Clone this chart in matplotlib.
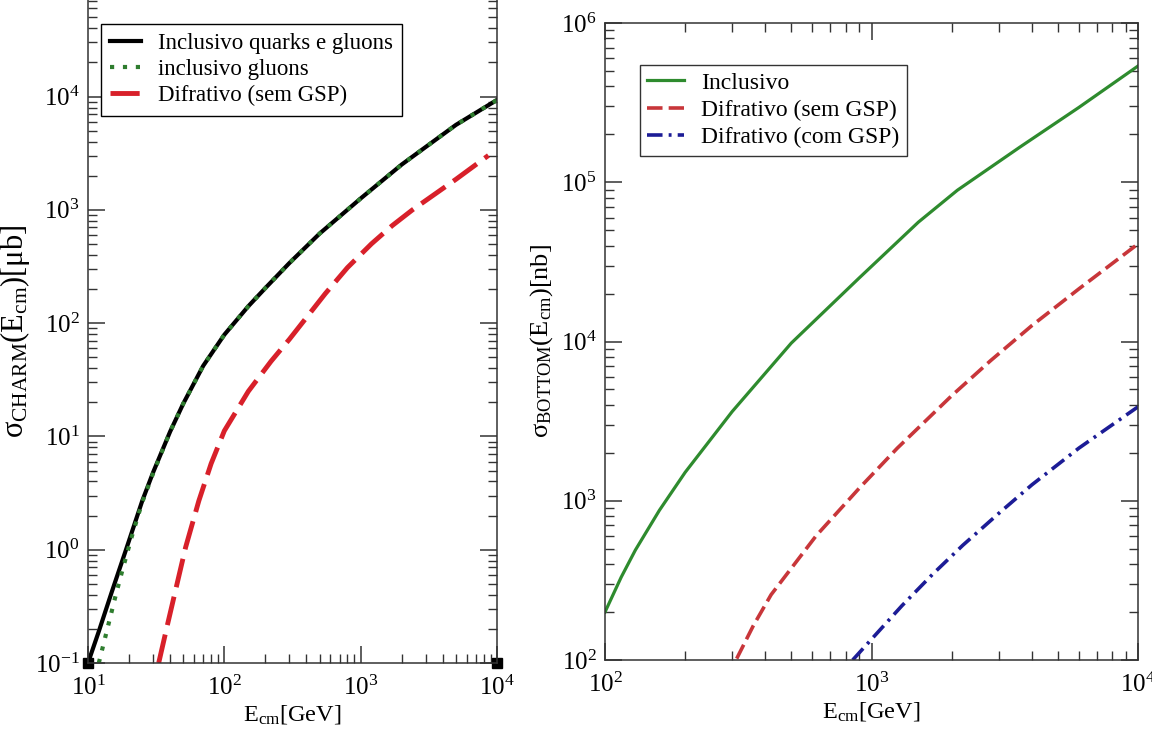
import numpy as np
import matplotlib
matplotlib.use("Agg")
import matplotlib.pyplot as plt
from matplotlib.ticker import LogLocator, NullFormatter

plt.rcParams['font.family'] = ['Liberation Serif', 'DejaVu Serif']
plt.rcParams['mathtext.fontset'] = 'custom'
plt.rcParams['mathtext.rm'] = 'Liberation Serif'
plt.rcParams['mathtext.it'] = 'Liberation Serif:italic'
plt.rcParams['mathtext.bf'] = 'Liberation Serif:bold'

# --- charm (left panel), sigma in micro-barn
E_charm_incl = [10, 12, 15, 19, 25, 30, 40, 50, 70, 100, 150, 200, 300, 500,
                1000, 2000, 5000, 10000]
sig_charm_incl = [0.1, 0.19, 0.43, 1.0, 2.7, 4.8, 11, 19.5, 42, 79, 141, 204, 339, 617,
                  1260, 2510, 5620, 9330]
E_charm_glu = [12, 14, 16, 18, 21, 25, 30, 40, 50, 70, 100, 150, 200, 300, 500,
               1000, 2000, 5000, 10000]
sig_charm_glu = [0.1, 0.21, 0.4, 0.68, 1.32, 2.63, 4.7, 11, 19.5, 42, 79, 141, 204, 339,
                 617, 1260, 2510, 5620, 9330]
E_charm_dif = [33, 38, 45, 52, 65, 80, 100, 150, 220, 300, 550, 800, 1200, 1700, 2400,
               5000, 8650]
sig_charm_dif = [0.1, 0.21, 0.5, 1.05, 2.7, 5.75, 11.2, 25, 46, 72, 182, 309, 501, 724,
                 1000, 1860, 3020]
corner_E = [10, 10000]
corner_sig = [0.1, 0.1]

# --- bottom (right panel), sigma in nano-barn
E_bot_incl = [100, 115, 130, 160, 200, 300, 500, 900, 1500, 2100, 3600, 6000, 10000]
sig_bot_incl = [200, 331, 490, 871, 1510, 3630, 9770, 2.51e4, 5.62e4, 8.91e4, 1.66e5,
                2.95e5, 5.37e5]
E_bot_sem = [312, 360, 420, 620, 900, 1250, 2000, 2800, 4000, 6000, 10000]
sig_bot_sem = [102, 164, 257, 603, 1200, 2140, 4570, 7590, 1.26e4, 2.14e4, 4.1e4]
E_bot_com = [850, 1000, 1300, 1700, 2200, 3000, 4000, 6000, 10000]
sig_bot_com = [100, 135, 219, 347, 525, 832, 1260, 2140, 3890]

fig = plt.figure(figsize=(11.52, 7.36), dpi=100)
ax1 = fig.add_axes([88/1152, 1-663/736, 409/1152, 663/736])
ax2 = fig.add_axes([605/1152, 1-660/736, 533/1152, 637/736])


def style_axis(ax, top=True):
    ax.set_xscale('log')
    ax.set_yscale('log')
    for s in ax.spines.values():
        s.set_linewidth(1.1)
        s.set_color('#333333')
    ax.spines['top'].set_visible(top)
    ax.xaxis.set_minor_locator(LogLocator(base=10, subs=np.arange(2, 10), numticks=20))
    ax.yaxis.set_minor_locator(LogLocator(base=10, subs=np.arange(2, 10), numticks=20))
    ax.xaxis.set_minor_formatter(NullFormatter())
    ax.yaxis.set_minor_formatter(NullFormatter())
    ax.tick_params(which='both', direction='in', left=True, right=True, bottom=True,
                   top=top, color='#333333', labelsize=18)
    ax.tick_params(which='major', length=12, width=1.1)
    ax.tick_params(which='minor', length=6.5, width=1.0)
    ax.tick_params(axis='x', pad=9)
    ax.tick_params(axis='y', pad=6)


style_axis(ax1, top=False)
ax1.plot(E_charm_incl, sig_charm_incl, color='black', lw=3.0,
         label='Inclusivo quarks e gluons')
ax1.plot(E_charm_glu, sig_charm_glu, color='#2f7d2f', lw=3.0, dashes=(1, 2.1),
         label='inclusivo gluons')
ax1.plot(E_charm_dif, sig_charm_dif, color='#d8202a', lw=3.5, dashes=(6, 2),
         label='Difrativo (sem GSP)')
ax1.plot(corner_E, corner_sig, ls='none', marker='s', ms=7, color='black', clip_on=False)
ax1.set_xlim(10, 1e4)
ax1.set_ylim(0.1, 10**4.852)
ax1.set_xlabel(r'E$_{\mathrm{cm}}$[GeV]', fontsize=17.5, labelpad=2)
ax1.set_ylabel(r'σ$_{\mathrm{CHARM}}$(E$_{\mathrm{cm}}$)[μb]', fontsize=22, labelpad=2)
leg1 = ax1.legend(loc='upper left', bbox_to_anchor=(101/1152, 1-24/736),
                  bbox_transform=fig.transFigure, borderaxespad=0, fontsize=16.5,
                  fancybox=False, edgecolor='black', framealpha=1, handlelength=1.35,
                  handletextpad=0.75, borderpad=0.4, labelspacing=0.22)
leg1.get_frame().set_linewidth(1.0)

style_axis(ax2, top=True)
ax2.plot(E_bot_incl, sig_bot_incl, color='#2e8b2e', lw=2.3, label='Inclusivo')
ax2.plot(E_bot_sem, sig_bot_sem, color='#c8363a', lw=2.6, dashes=(4.3, 1.7),
         label='Difrativo (sem GSP)')
ax2.plot(E_bot_com, sig_bot_com, color='#1c1c96', lw=2.6, dashes=(4.3, 1.7, 0.8, 1.7),
         label='Difrativo (com GSP)')
ax2.set_xlim(100, 1e4)
ax2.set_ylim(100, 1e6)
ax2.set_xlabel(r'E$_{\mathrm{cm}}$[GeV]', fontsize=17.5, labelpad=2)
ax2.set_ylabel(r'σ$_{\mathrm{BOTTOM}}$(E$_{\mathrm{cm}}$)[nb]', fontsize=19, labelpad=4)
leg2 = ax2.legend(loc='upper left', bbox_to_anchor=(640/1152, 1-65/736),
                  bbox_transform=fig.transFigure, borderaxespad=0, fontsize=17,
                  fancybox=False, edgecolor='#333333', framealpha=1, handlelength=1.55,
                  handletextpad=0.75, borderpad=0.3, labelspacing=0.25)
leg2.get_frame().set_linewidth(1.0)

fig.savefig('out.png', dpi=100)
